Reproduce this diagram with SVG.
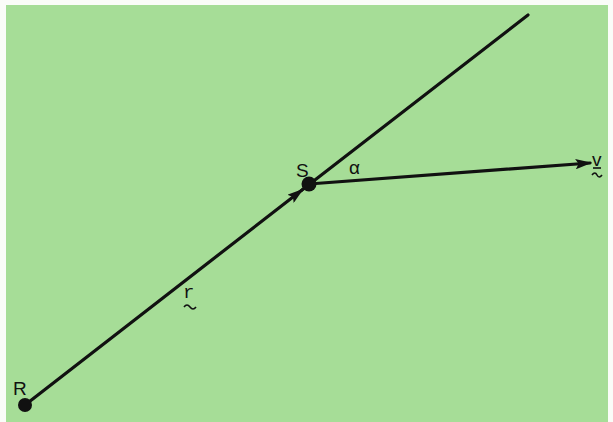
<svg xmlns="http://www.w3.org/2000/svg" width="613" height="422" viewBox="0 0 613 422">
<style>
.ln{stroke:#111;stroke-width:3.2;fill:none;stroke-linecap:round}
.t{font-family:"Liberation Sans",Arial,sans-serif;font-size:19px;fill:#111}
.m{font-family:"Liberation Mono","Courier New",monospace;font-size:19px;fill:#111}
.tl{stroke:#111;stroke-width:1.6;fill:none}
</style>
<defs>
<marker id="ah" viewBox="0 0 16 10" refX="14" refY="5" markerWidth="5.2" markerHeight="3.25" orient="auto" markerUnits="strokeWidth">
<path d="M0,0 L16,5 L0,10 L3,5 Z" fill="#111"/>
</marker>
</defs>
<rect x="0" y="0" width="613" height="422" fill="#fafcf8"/>
<rect x="6" y="5" width="602" height="417" fill="#a6dd97"/>
<g id="connectors">
<line class="ln" x1="25" y1="405" x2="302" y2="190" marker-end="url(#ah)"/>
<line class="ln" x1="302" y1="190" x2="528" y2="15"/>
<line class="ln" x1="309" y1="184" x2="590" y2="163" marker-end="url(#ah)"/>
</g>
<g id="R">
<circle cx="25" cy="405" r="7" fill="#111"/>
<text class="t" x="13" y="395">R</text>
</g>
<g id="S">
<circle cx="309" cy="184" r="7.5" fill="#111"/>
<text class="t" x="296" y="177">S</text>
</g>
<g id="alpha">
<text class="t" x="349" y="174">α</text>
</g>
<g id="rlabel">
<text class="m" x="183" y="298">r</text>
<path class="tl" d="M184,307 q3,-4 6,0 t6,0"/>
</g>
<g id="vlabel">
<text class="t" x="592" y="166">v</text>
<line class="tl" x1="593" y1="168" x2="601" y2="168"/>
<path class="tl" d="M592,175 q3,-4 5,0 t5,0"/>
</g>
</svg>
